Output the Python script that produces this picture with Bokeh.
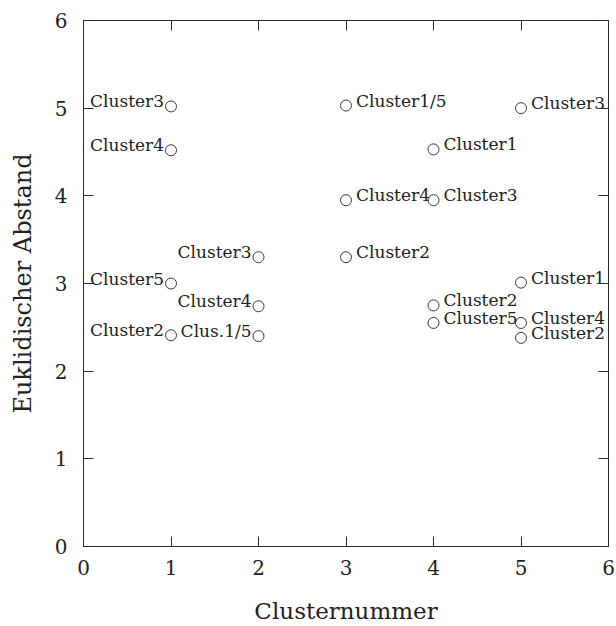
from bokeh.plotting import figure
from bokeh.models import LinearAxis, FixedTicker, ColumnDataSource, Range1d
from bokeh.embed import file_html
from bokeh.resources import INLINE
from bokeh.core.properties import value

# ---- data ----
cluster_number = [1, 1, 1, 1, 2, 2, 2, 3, 3, 3, 4, 4, 4, 4, 5, 5, 5, 5]
distance = [5.02, 4.52, 3.00, 2.41,
            3.30, 2.74, 2.40,
            5.03, 3.95, 3.30,
            4.53, 3.95, 2.75, 2.55,
            5.00, 3.01, 2.55, 2.38]
labels = ["Cluster3", "Cluster4", "Cluster5", "Cluster2",
          "Cluster3", "Cluster4", "Clus.1/5",
          "Cluster1/5", "Cluster4", "Cluster2",
          "Cluster1", "Cluster3", "Cluster2", "Cluster5",
          "Cluster3", "Cluster1", "Cluster4", "Cluster2"]
x_ticks = [0, 1, 2, 3, 4, 5, 6]
y_ticks = [0, 1, 2, 3, 4, 5, 6]
x_title = "Clusternummer"
y_title = "Euklidischer Abstand"

INK = "#2b2b2b"
SERIF = "DejaVu Serif"

p = figure(width=616, height=626, output_backend="svg", toolbar_location=None,
           x_range=Range1d(0, 6), y_range=Range1d(0, 6),
           min_border_left=83, min_border_right=8, min_border_top=20, min_border_bottom=80)
p.grid.visible = False
p.outline_line_color = INK
p.outline_line_width = 1
p.background_fill_color = "white"
p.border_fill_color = "white"

def style_axis(ax, ticks, show_labels=True):
    ax.ticker = FixedTicker(ticks=ticks)
    ax.major_tick_in = 10
    ax.major_tick_out = 0
    ax.minor_tick_in = 0
    ax.minor_tick_out = 0
    ax.axis_line_color = INK
    ax.major_tick_line_color = INK
    ax.major_tick_line_width = 1
    ax.major_label_text_font = SERIF
    ax.major_label_text_color = "#222222"
    ax.major_label_text_font_size = "20px" if show_labels else "0px"
    if not show_labels:
        ax.major_label_text_alpha = 0

style_axis(p.xaxis[0], x_ticks)
style_axis(p.yaxis[0], y_ticks)
p.xaxis[0].major_label_standoff = 13
p.yaxis[0].major_label_standoff = 16
p.xaxis[0].axis_label = x_title
p.yaxis[0].axis_label = y_title
for ax in (p.xaxis[0], p.yaxis[0]):
    ax.axis_label_text_font = SERIF
    ax.axis_label_text_font_style = "normal"
    ax.axis_label_text_color = "#222222"
p.xaxis[0].axis_label_text_font_size = "23px"
p.yaxis[0].axis_label_text_font_size = "24px"
p.xaxis[0].axis_label_standoff = 20
p.yaxis[0].axis_label_standoff = 15

top = LinearAxis()
style_axis(top, x_ticks, show_labels=False)
p.add_layout(top, "above")
right = LinearAxis()
style_axis(right, y_ticks, show_labels=False)
p.add_layout(right, "right")

left_idx = [i for i, c in enumerate(cluster_number) if c <= 2]
right_idx = [i for i, c in enumerate(cluster_number) if c > 2]

src = ColumnDataSource(dict(x=cluster_number, y=distance, t=labels))
src_l = ColumnDataSource(dict(x=[cluster_number[i] for i in left_idx],
                              y=[distance[i] for i in left_idx],
                              t=[labels[i] for i in left_idx]))
src_r = ColumnDataSource(dict(x=[cluster_number[i] for i in right_idx],
                              y=[distance[i] for i in right_idx],
                              t=[labels[i] for i in right_idx]))

p.scatter("x", "y", source=src, marker="circle", size=11, fill_color=None,
          line_color="#3a3a3a", line_width=1)

p.text("x", "y", text="t", source=src_l, text_align="right", text_baseline="middle",
       x_offset=-7, y_offset=-5, text_font=value(SERIF), text_font_size="17px",
       text_color="#222222")
p.text("x", "y", text="t", source=src_r, text_align="left", text_baseline="middle",
       x_offset=10, y_offset=-5, text_font=value(SERIF), text_font_size="17px",
       text_color="#222222")

open("out.html", "w").write(file_html(p, INLINE))
